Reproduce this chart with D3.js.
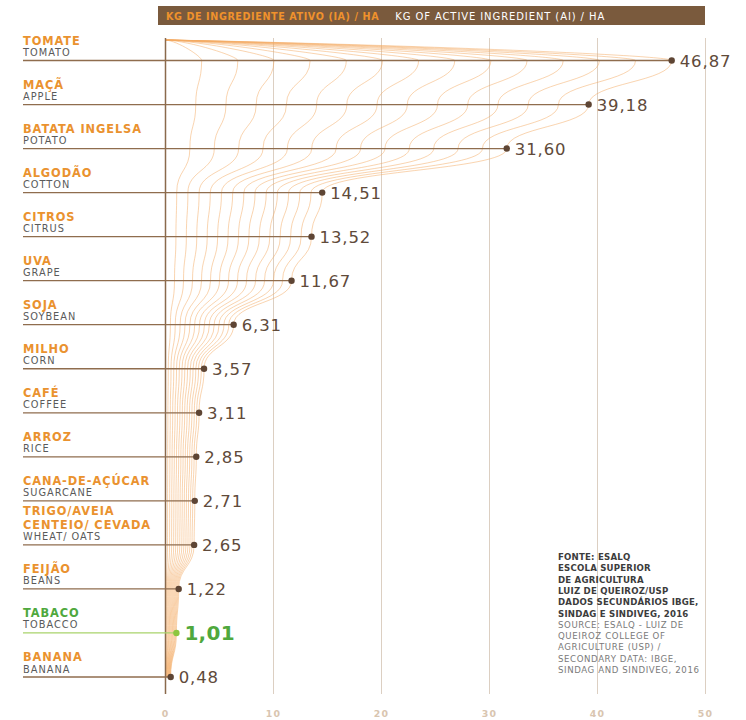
<!DOCTYPE html>
<html><head><meta charset="utf-8">
<script src="https://cdn.jsdelivr.net/npm/d3@7"></script>
<style>
html,body{margin:0;padding:0;background:#fff;}
svg{display:block;}
</style></head>
<body>
<script>
const categoriesPt = ["TOMATE","MAÇÃ","BATATA INGELSA","ALGODÃO","CITROS","UVA","SOJA","MILHO","CAFÉ","ARROZ","CANA-DE-AÇÚCAR","TRIGO/AVEIA|CENTEIO/ CEVADA","FEIJÃO","TABACO","BANANA"];
const categoriesEn = ["TOMATO","APPLE","POTATO","COTTON","CITRUS","GRAPE","SOYBEAN","CORN","COFFEE","RICE","SUGARCANE","WHEAT/ OATS","BEANS","TOBACCO","BANANA"];
const values = [46.87,39.18,31.60,14.51,13.52,11.67,6.31,3.57,3.11,2.85,2.71,2.65,1.22,1.01,0.48];
const valueLabels = ["46,87","39,18","31,60","14,51","13,52","11,67","6,31","3,57","3,11","2,85","2,71","2,65","1,22","1,01","0,48"];
const xTicks = [0,10,20,30,40,50];
const highlight = "TOBACCO";
const titlePt = "KG DE INGREDIENTE ATIVO (IA) / HA";
const titleEn = "KG OF ACTIVE INGREDIENT (AI) / HA";
const sourcePt = ["FONTE: ESALQ","ESCOLA SUPERIOR","DE AGRICULTURA","LUIZ DE QUEIROZ/USP","DADOS SECUNDÁRIOS IBGE,","SINDAG E SINDIVEG, 2016"];
const sourceEn = ["SOURCE: ESALQ - LUIZ DE","QUEIROZ COLLEGE OF","AGRICULTURE (USP) /","SECONDARY DATA: IBGE,","SINDAG AND SINDIVEG, 2016"];
const nStrands = 14;

const W = 746, H = 720;
const svg = d3.select("body").append("svg").attr("width", W).attr("height", H);
const FONT = "'DejaVu Sans', 'Open Sans', sans-serif";

const x = d3.scaleLinear().domain([0, 50]).range([165.5, 705.5]);
const y = d3.scalePoint().domain(categoriesEn).range([60.5, 677]);

// header
svg.append("rect").attr("x", 158).attr("y", 6).attr("width", 547).attr("height", 19).attr("fill", "#7a5a3d");
const ht = svg.append("text").attr("x", 166).attr("y", 19.5).attr("font-family", FONT);
ht.append("tspan").attr("font-size", 9.6).attr("fill", "#f0922c").attr("font-weight", "bold").attr("letter-spacing", 0.6).text(titlePt);
ht.append("tspan").attr("dx", 16).attr("font-size", 10).attr("fill", "#ffffff").attr("letter-spacing", 0.9).text(titleEn);

// gridlines
const gTop = 38, gBot = 694;
svg.append("g").selectAll("line").data(xTicks.slice(1)).join("line")
  .attr("x1", d => x(d)).attr("x2", d => x(d)).attr("y1", gTop).attr("y2", gBot)
  .attr("stroke", "#dccfc2").attr("stroke-width", 1);

// tick labels
svg.append("g").selectAll("text").data(xTicks).join("text")
  .attr("x", d => x(d)).attr("y", 717).attr("text-anchor", "middle")
  .attr("font-family", FONT).attr("font-size", 9.4).attr("font-weight", "bold")
  .attr("letter-spacing", 1.2).attr("fill", "#d9c5b0").text(d => d);

// decorative strands
const bump = d3.line().x(d => d[0]).y(d => d[1]).curve(d3.curveBumpY);
const strands = svg.append("g").attr("fill", "none").attr("stroke", "#f3aa62").attr("stroke-width", 0.6).attr("stroke-opacity", 0.85);
for (let k = 1; k <= nStrands; k++) {
  const f = k / nStrands;
  const pts = categoriesEn.map((c, i) => [x(values[i] * f), y(c)]);
  const x0 = x(0), xk = pts[0][0], y0 = pts[0][1];
  const top = `M${x0},40C${x0 + (xk - x0) * 0.35},${41 + f*2} ${xk},${y0 - 4 - f*2} ${xk},${y0}`;
  const lower = bump(pts).replace(/^M[^C]*/, "");
  strands.append("path").attr("d", top + lower);
}

// axis line
svg.append("line").attr("x1", x(0)).attr("x2", x(0)).attr("y1", gTop).attr("y2", gBot)
  .attr("stroke", "#8a6a4c").attr("stroke-width", 1.5);

// rows
const rows = svg.append("g").selectAll("g").data(categoriesEn).join("g");
rows.append("line").attr("x1", 23).attr("x2", (d, i) => x(values[i])).attr("y1", d => y(d)).attr("y2", d => y(d))
  .attr("stroke", d => d === highlight ? "#a9d36b" : "#8f6d4e").attr("stroke-width", 1.3);
rows.append("circle").attr("cx", (d, i) => x(values[i])).attr("cy", d => y(d)).attr("r", 3.2)
  .attr("fill", d => d === highlight ? "#8cc63f" : "#5e4534");
rows.append("text").attr("x", (d, i) => x(values[i]) + 8).attr("y", d => y(d) + (d === highlight ? 7.5 : 6.3))
  .attr("font-family", FONT)
  .attr("font-size", d => d === highlight ? 20 : 16.5)
  .attr("font-weight", d => d === highlight ? "bold" : "normal")
  .attr("letter-spacing", d => d === highlight ? 0.3 : 0.9)
  .attr("fill", d => d === highlight ? "#4fa83d" : "#604a3a")
  .text((d, i) => valueLabels[i]);
rows.append("text").attr("x", 23).attr("y", d => y(d) - 4.5)
  .attr("font-family", FONT).attr("font-size", 9.8).attr("letter-spacing", 1.0).attr("fill", "#5a5a5a")
  .text(d => d);
rows.each(function(d, i) {
  const lines = categoriesPt[i].split("|");
  const lh = 13.4;
  lines.forEach((ln, j) => {
    d3.select(this).append("text")
      .attr("x", 23).attr("y", y(d) - 16 - (lines.length - 1 - j) * lh)
      .attr("font-family", FONT).attr("font-size", 11.4).attr("font-weight", "bold").attr("letter-spacing", 0.9)
      .attr("fill", d === highlight ? "#4fa83d" : "#ea922f").text(ln);
  });
});

// source
const src = svg.append("g").attr("font-family", FONT).attr("font-size", 8.6);
sourcePt.forEach((t, i) => src.append("text").attr("x", 558).attr("y", 560 + i * 11.3).attr("font-weight", "bold").attr("letter-spacing", 0.2).attr("fill", "#3c3c3c").text(t));
sourceEn.forEach((t, i) => src.append("text").attr("x", 558).attr("y", 560 + (sourcePt.length + i) * 11.3).attr("letter-spacing", 0.6).attr("fill", "#7a7a7a").text(t));
</script>
</body></html>
